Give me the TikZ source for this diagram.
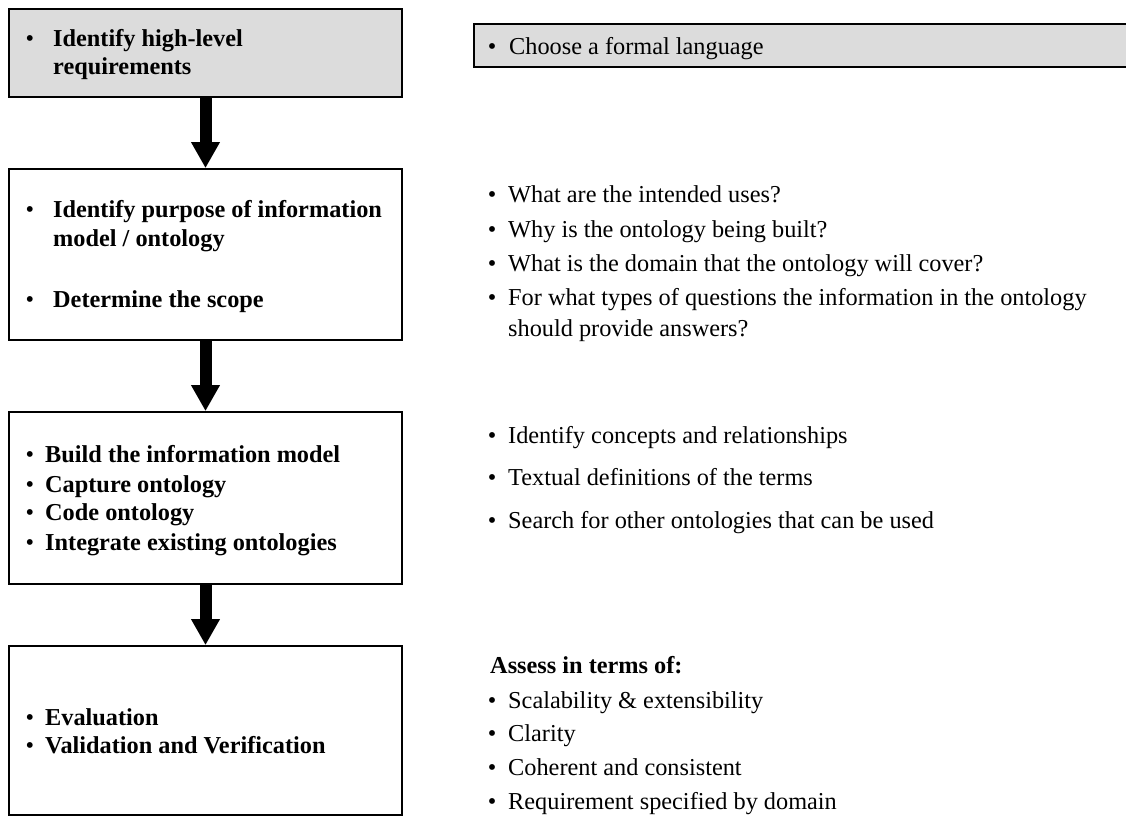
\documentclass[tikz,border=0pt]{standalone}
\usepackage{fontspec}
\setmainfont{Liberation Serif}
\usetikzlibrary{arrows.meta}
\definecolor{boxgray}{HTML}{DCDCDC}
\newcommand{\diagfs}{\fontsize{24.3pt}{29pt}\selectfont}
\begin{document}
\begin{tikzpicture}[x=1pt,y=-1pt,
  stepbox/.style={draw=black,line width=1.7pt,rectangle,inner sep=0pt},
  bul/.style={anchor=base,inner sep=0pt,font=\diagfs},
  btxt/.style={anchor=base west,inner sep=0pt,font=\diagfs\bfseries},
  rtxt/.style={anchor=base west,inner sep=0pt,font=\diagfs},
  bigarrow/.style={line width=12pt,-{Triangle[width=27pt,length=26pt]}}]
\useasboundingbox (0,0) rectangle (1126,818);

% left column: process steps
\node[stepbox,fill=boxgray,minimum width=393pt,minimum height=88pt] (b1) at (205.5,53) {};
\node[stepbox,minimum width=393pt,minimum height=171pt] (b2) at (205.5,254.5) {};
\node[stepbox,minimum width=393pt,minimum height=172pt] (b3) at (205.5,498) {};
\node[stepbox,minimum width=393pt,minimum height=169pt] (b4) at (205.5,730.5) {};

\draw[bigarrow] (b1.south) -- (b2.north);
\draw[bigarrow] (b2.south) -- (b3.north);
\draw[bigarrow] (b3.south) -- (b4.north);

% step 1
\node[bul] (p1) at (30,47) {\textbullet};
\node[btxt] (s1a) at (53,47) {Identify high-level};
\node[btxt] (s1b) at (53,75) {requirements};

% step 2
\node[bul] (p2a) at (30,218) {\textbullet};
\node[btxt] (s2a) at (53,218) {Identify purpose of information};
\node[btxt] (s2b) at (53,247) {model / ontology};
\node[bul] (p2b) at (30,307) {\textbullet};
\node[btxt] (s2c) at (53,307) {Determine the scope};

% step 3
\node[bul] (p3a) at (30,462) {\textbullet};
\node[btxt] (s3a) at (45,462) {Build the information model};
\node[bul] (p3b) at (30,492) {\textbullet};
\node[btxt] (s3b) at (45,492) {Capture ontology};
\node[bul] (p3c) at (30,520) {\textbullet};
\node[btxt] (s3c) at (45,520) {Code ontology};
\node[bul] (p3d) at (30,550) {\textbullet};
\node[btxt] (s3d) at (45,550) {Integrate existing ontologies};

% step 4
\node[bul] (p4a) at (30,725) {\textbullet};
\node[btxt] (s4a) at (45,725) {Evaluation};
\node[bul] (p4b) at (30,753) {\textbullet};
\node[btxt] (s4b) at (45,753) {Validation and Verification};

% right column: notes
\node[stepbox,fill=boxgray,minimum width=700pt,minimum height=43pt,anchor=north west] (lang) at (473,23) {};
\node[bul] (q0) at (492,55) {\textbullet};
\node[rtxt] (r0) at (509,55) {Choose a formal language};

\node[bul] (q1) at (492,203) {\textbullet};
\node[rtxt] (r1) at (508,203) {What are the intended uses?};
\node[bul] (q2) at (492,237) {\textbullet};
\node[rtxt] (r2) at (508,237) {Why is the ontology being built?};
\node[bul] (q3) at (492,271) {\textbullet};
\node[rtxt] (r3) at (508,271) {What is the domain that the ontology will cover?};
\node[bul] (q4) at (492,305) {\textbullet};
\node[rtxt] (r4) at (508,305) {For what types of questions the information in the ontology};
\node[rtxt] (r4b) at (508,336) {should provide answers?};

\node[bul] (q5) at (492,443) {\textbullet};
\node[rtxt] (r5) at (508,443) {Identify concepts and relationships};
\node[bul] (q6) at (492,485) {\textbullet};
\node[rtxt] (r6) at (508,485) {Textual definitions of the terms};
\node[bul] (q7) at (492,528) {\textbullet};
\node[rtxt] (r7) at (508,528) {Search for other ontologies that can be used};

\node[rtxt,font=\diagfs\bfseries] (r8) at (490,673) {Assess in terms of:};
\node[bul] (q9) at (492,708) {\textbullet};
\node[rtxt] (r9) at (508,708) {Scalability \& extensibility};
\node[bul] (q10) at (492,741) {\textbullet};
\node[rtxt] (r10) at (508,741) {Clarity};
\node[bul] (q11) at (492,775) {\textbullet};
\node[rtxt] (r11) at (508,775) {Coherent and consistent};
\node[bul] (q12) at (492,809) {\textbullet};
\node[rtxt] (r12) at (508,809) {Requirement specified by domain};
\end{tikzpicture}
\end{document}
